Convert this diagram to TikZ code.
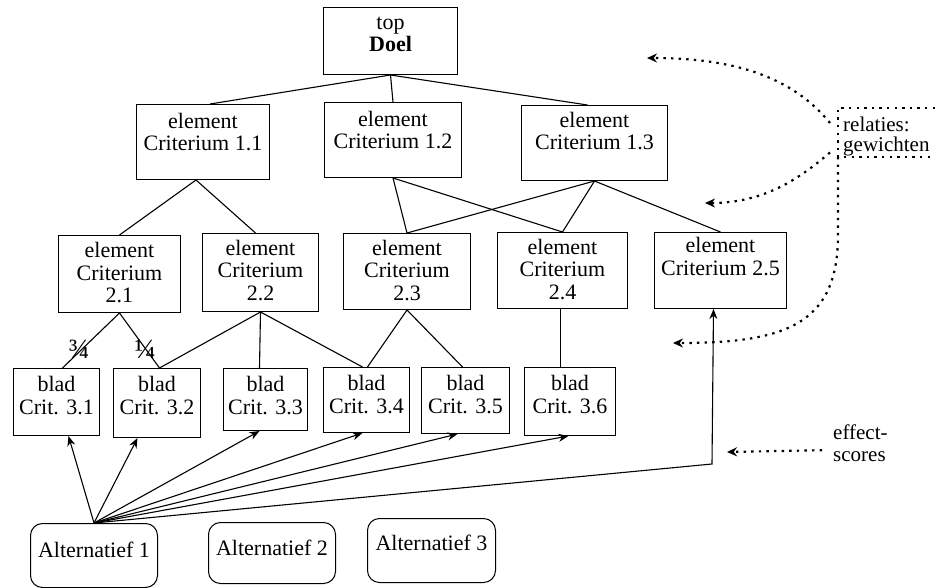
\documentclass[tikz,border=0pt]{standalone}
\usepackage{fontspec}
\setmainfont{Liberation Serif}
\usetikzlibrary{arrows.meta,calc}
\newcommand\tbox[8]{%
  \node[bx,#7] (#1) at (#2,#3) {\parbox[c][#5pt][t]{#4pt}{\centering\rule{0pt}{#6pt}#8}};}
\begin{document}
\begin{tikzpicture}[x=1pt,y=-1pt,
  bx/.style={draw,line width=1pt,inner sep=0pt,anchor=north west,font=\fontsize{22}{22.5}\selectfont},
  ln/.style={line width=1.1pt},
  arr/.style={line width=1.1pt,-{Stealth[length=10pt,width=8pt]}},
  dotline/.style={line width=2.2pt,dash pattern=on 2.4pt off 5.2pt},
  dots/.style={dotline,-{Stealth[length=10pt,width=9pt]}},
  lbl/.style={inner sep=0pt,font=\fontsize{20}{22}\selectfont}]
\useasboundingbox (0,0) rectangle (935,588);
% boxes
\tbox{doel}{323}{7}{134}{67}{22}{}{top\\\textbf{Doel}}
\tbox{c11}{136}{104}{133}{75}{24}{}{element\\Criterium 1.1}
\tbox{c12}{324}{102}{137}{75}{24}{}{element\\Criterium 1.2}
\tbox{c13}{521}{105}{146}{75}{22}{}{element\\Criterium 1.3}
\tbox{c21}{58}{235}{122}{77}{22}{}{element\\Criterium\\2.1}
\tbox{c22}{202}{233}{116}{78}{22}{}{element\\Criterium\\2.2}
\tbox{c23}{343}{233}{127}{76}{22}{}{element\\Criterium\\2.3}
\tbox{c24}{497}{232}{130}{76}{22}{}{element\\Criterium\\2.4}
\tbox{c25}{654}{232}{132}{76}{20}{}{element\\Criterium 2.5}
\tbox{b31}{13}{368}{86}{67}{23}{}{blad\\Crit. 3.1}
\tbox{b32}{113}{368}{87}{69}{23}{}{blad\\Crit. 3.2}
\tbox{b33}{223}{368}{84}{62}{23}{}{blad\\Crit. 3.3}
\tbox{b34}{323}{367}{86}{65}{23}{}{blad\\Crit. 3.4}
\tbox{b35}{421}{367}{88}{66}{23}{}{blad\\Crit. 3.5}
\tbox{b36}{524}{367}{91}{68}{23}{}{blad\\Crit. 3.6}
\tbox{alt1}{30}{523}{127}{64}{34}{rounded corners=12pt}{Alternatief 1}
\tbox{alt2}{208}{522}{127}{61}{33}{rounded corners=12pt}{Alternatief 2}
\tbox{alt3}{367}{518}{128}{64}{32}{rounded corners=12pt}{Alternatief 3}
% tree lines
\draw[ln] (doel.south) -- ([xshift=74pt]c11.north west);
\draw[ln] (doel.south) -- (c12.north);
\draw[ln] (doel.south) -- ([xshift=-7pt]c13.north);
\draw[ln] ([xshift=-7pt]c11.south) -- (c21.north);
\draw[ln] ([xshift=-7pt]c11.south) -- ([xshift=-5pt]c22.north);
\draw[ln] (c12.south) -- (c23.north);
\draw[ln] (c12.south) -- (c24.north);
\draw[ln] (c13.south) -- (c23.north);
\draw[ln] (c13.south) -- (c24.north);
\draw[ln] (c13.south) -- (c25.north);
\draw[ln] (c21.south) -- ([xshift=6pt]b31.north);
\draw[ln] (c21.south) -- ([xshift=2.5pt]b32.north);
\draw[ln] (c22.south) -- ([xshift=2.5pt]b32.north);
\draw[ln] (c22.south) -- ([xshift=-6pt]b33.north);
\draw[ln] (c22.south) -- ([xshift=-4pt]b34.north);
\draw[ln] (c23.south) -- ([xshift=1pt]b34.north);
\draw[ln] (c23.south) -- ([xshift=-3pt]b35.north);
\draw[ln] ([xshift=-2pt]c24.south) -- ([xshift=-9.5pt]b36.north);
% weights
\node[lbl,font=\fontsize{28}{30}\selectfont] (f34) at (79,349) {¾};
\node[lbl,font=\fontsize{28}{30}\selectfont] (f14) at (145,349) {¼};
% effect arrows
\draw[arr] (alt1.north) -- ([xshift=12pt]b31.south);
\draw[arr] (alt1.north) -- ([xshift=-19.5pt]b32.south);
\draw[arr] (alt1.north) -- ([xshift=-6pt]b33.south);
\draw[arr] (alt1.north) -- ([xshift=-4pt]b34.south);
\draw[arr] (alt1.north) -- ([xshift=-8pt]b35.south);
\draw[arr] (alt1.north) -- ([xshift=-1.5pt]b36.south);
\coordinate (knee) at (712,464);
\draw[arr] (alt1.north) -- (knee) -- ([xshift=-7pt]c25.south);
% relaties
\node[lbl,anchor=north west,align=left,font=\fontsize{21}{20}\selectfont] (rel) at (843,117) {relaties:\\gewichten};
\draw[dotline] (935,108) -- (838,108) -- (838,157) -- (935,157);
\coordinate (g1) at (647,58);
\coordinate (g2) at (705,203);
\coordinate (g3) at (673,343);
\draw[dots] ([xshift=-13pt,yshift=-6pt]rel.north west) .. controls (795,80) and (740,58) .. (g1);
\draw[dots] ([xshift=-13pt,yshift=4pt]rel.south west) .. controls (800,178) and (765,203) .. (g2);
\draw[dots] (838,157) -- (838,235) .. controls (838,325) and (785,343) .. (g3);
% effect-scores
\node[lbl,anchor=north west,align=left,font=\fontsize{21}{22}\selectfont] (eff) at (833,425) {effect-\\scores};
\coordinate (g4) at (727,452);
\draw[dots] ([xshift=-11pt,yshift=-6.5pt]eff.west) -- (g4);
\end{tikzpicture}
\end{document}
